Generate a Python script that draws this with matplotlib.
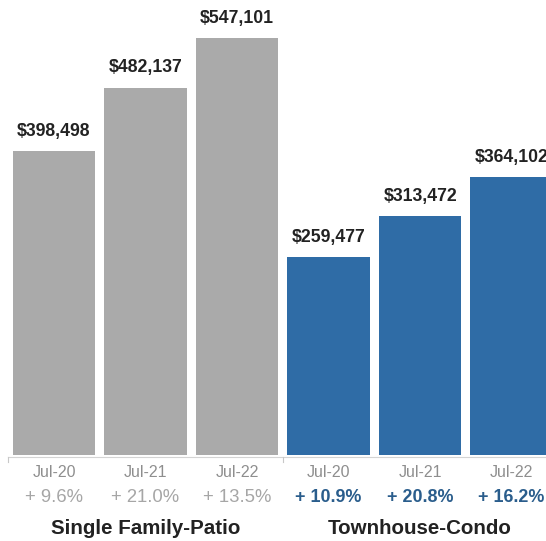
import matplotlib.pyplot as plt
import matplotlib.transforms as mtransforms

plt.rcParams["font.family"] = ["Liberation Sans", "DejaVu Sans"]

years = ["Jul-20", "Jul-21", "Jul-22"]
groups = ["Single Family-Patio", "Townhouse-Condo"]
sfp_prices = [398498, 482137, 547101]
condo_prices = [259477, 313472, 364102]
sfp_change = [9.6, 21.0, 13.5]
condo_change = [10.9, 20.8, 16.2]

GREY = "#aaaaaa"
BLUE = "#2f6ca6"
BLUE_TEXT = "#2a5d8c"


fig = plt.figure(figsize=(5.46, 5.41), dpi=100)
ax = fig.add_axes([0, 0.159, 1, 0.841])

prices = sfp_prices + condo_prices
changes = sfp_change + condo_change
colors = [GREY] * 3 + [BLUE] * 3
xs = list(range(len(prices)))

ax.bar(xs, prices, width=0.9, color=colors, linewidth=0)
ax.set_xlim(-0.59, 5.375)
ax.set_ylim(0, 597000)
ax.axis("off")

# faint baseline with a tick at each group boundary
ax.plot([-0.5, 6], [-2500, -2500], color="#d4d4d4", lw=0.8, clip_on=False)
for b in [-0.5, 2.5, 5.5]:
    ax.plot([b, b], [-2500, -9000], color="#c8c8c8", lw=0.8, clip_on=False)

for x, p in zip(xs, prices):
    ax.annotate(f"${p:,}", (x, p), xytext=(0, 8), textcoords="offset points",
                ha="center", va="bottom", fontsize=12.7, fontweight="bold",
                color="#222222", annotation_clip=False)

trans = mtransforms.blended_transform_factory(ax.transData, fig.transFigure)
for i, x in enumerate(xs):
    ax.text(x, 0.1257, years[i % 3], transform=trans, ha="center", va="center",
            fontsize=11.5, color="#8e8e8e")
    if i < 3:
        ax.text(x, 0.0813, f"+ {changes[i]:.1f}%", transform=trans, ha="center",
                va="center", fontsize=13.3, color="#a6a6a6")
    else:
        ax.text(x, 0.0813, f"+ {changes[i]:.1f}%", transform=trans, ha="center",
                va="center", fontsize=12.9, fontweight="bold", color=BLUE_TEXT)

for g, name in enumerate(groups):
    ax.text(1 + 3 * g, 0.024, name, transform=trans, ha="center", va="center",
            fontsize=14.8, fontweight="bold", color="#222222")

fig.savefig("out.png", dpi=100)
